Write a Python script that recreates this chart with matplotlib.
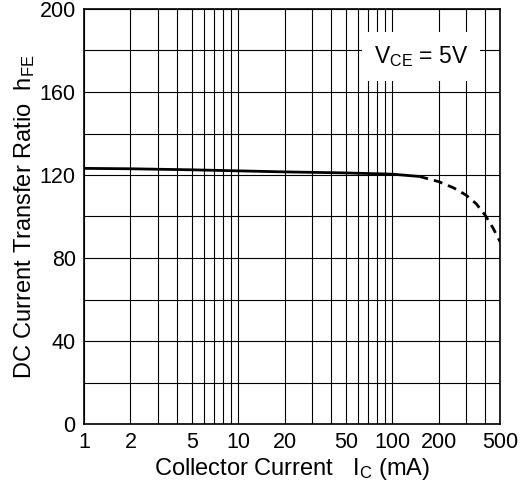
import numpy as np
import matplotlib.pyplot as plt
from matplotlib.ticker import FixedLocator, NullFormatter

plt.rcParams['font.family'] = ['Liberation Sans', 'DejaVu Sans']
plt.rcParams['mathtext.fontset'] = 'custom'
plt.rcParams['mathtext.rm'] = 'Liberation Sans'

# measured curve (collector current in mA, hFE)
ic_solid = [1, 2, 5, 10, 20, 50, 100, 150]
hfe_solid = [123.2, 123.0, 122.5, 122.0, 121.5, 121.0, 120.4, 119.3]
ic_dash = [150, 200, 250, 300, 350, 400, 450, 500]
hfe_dash = [119.3, 116.8, 113.8, 110.4, 106.2, 100.7, 94.5, 87.9]

xticks = [1, 2, 5, 10, 20, 50, 100, 200, 500]
yticks = [0, 40, 80, 120, 160, 200]

fig = plt.figure(figsize=(5.28, 4.96), dpi=100)
ax = fig.add_axes([84 / 528, 1 - 424 / 496, 416 / 528, 415 / 496])

ax.plot(ic_solid, hfe_solid, color='black', lw=2, solid_capstyle='butt', zorder=3)
ax.plot(ic_dash, hfe_dash, color='black', lw=2, ls=(0, (3.2, 2.2)), zorder=3)

ax.set_xscale('log')
ax.set_xlim(1, 500)
ax.set_ylim(0, 200)

# grid: every 1..9 per decade on x, every 20 on y
minor_x = [m * 10 ** d for d in range(3) for m in range(1, 10) if m * 10 ** d <= 500]
ax.xaxis.set_major_locator(FixedLocator(xticks))
ax.xaxis.set_minor_locator(FixedLocator(minor_x))
ax.xaxis.set_minor_formatter(NullFormatter())
ax.set_xticklabels([str(v) for v in xticks])
ax.yaxis.set_major_locator(FixedLocator(yticks))
ax.yaxis.set_minor_locator(FixedLocator(list(range(0, 201, 20))))
ax.grid(True, which='both', color='black', lw=0.8)
ax.tick_params(which='both', length=0, labelsize=15.5, pad=6)
for s in ax.spines.values():
    s.set_linewidth(1.2)

ax.set_xlabel(r'Collector Current   $\mathregular{I_C}$ (mA)', fontsize=17, labelpad=2)
ax.set_ylabel(r'DC Current Transfer Ratio  $\mathregular{h_{FE}}$', fontsize=17, labelpad=2)

ax.text(0.81, 0.885, r'$\mathregular{V_{CE}}$ = 5V', transform=ax.transAxes,
        ha='center', va='center', fontsize=16.5, zorder=4,
        bbox=dict(facecolor='white', edgecolor='none', pad=8.5))

fig.savefig('out.png', dpi=100)
